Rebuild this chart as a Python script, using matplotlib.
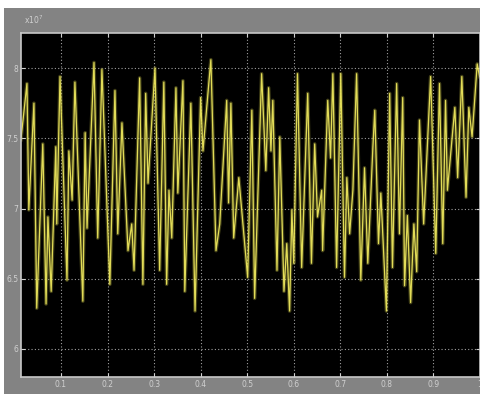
import matplotlib
matplotlib.use("Agg")
import matplotlib.pyplot as plt
from matplotlib.patches import Rectangle

# Отсчёты сигнала: время, с и значение (в единицах 1e7)
t = [0.014, 0.027, 0.031, 0.042, 0.048, 0.061, 0.068, 0.072, 0.079, 0.089,
     0.091, 0.098, 0.113, 0.117, 0.124, 0.130, 0.147, 0.152, 0.156, 0.171,
     0.179, 0.188, 0.205, 0.216, 0.222, 0.231, 0.244, 0.252, 0.257, 0.269,
     0.276, 0.282, 0.287, 0.302, 0.312, 0.321, 0.327, 0.332, 0.338, 0.347,
     0.351, 0.362, 0.366, 0.379, 0.388, 0.400, 0.405, 0.422, 0.433, 0.441,
     0.456, 0.460, 0.465, 0.471, 0.482, 0.501, 0.510, 0.516, 0.531, 0.540,
     0.546, 0.551, 0.555, 0.564, 0.570, 0.579, 0.585, 0.591, 0.596, 0.600,
     0.608, 0.617, 0.630, 0.638, 0.645, 0.651, 0.660, 0.662, 0.673, 0.679,
     0.684, 0.692, 0.701, 0.709, 0.714, 0.720, 0.727, 0.735, 0.744, 0.752,
     0.759, 0.770, 0.774, 0.782, 0.787, 0.799, 0.806, 0.812, 0.821, 0.827,
     0.834, 0.838, 0.844, 0.851, 0.858, 0.864, 0.870, 0.879, 0.894, 0.905,
     0.913, 0.920, 0.926, 0.930, 0.946, 0.952, 0.961, 0.970, 0.976, 0.983,
     0.994, 0.999]
v = [7.49, 7.89, 6.99, 7.75, 6.29, 7.46, 6.32, 6.94, 6.41, 7.44,
     6.89, 7.94, 6.49, 7.41, 7.06, 7.90, 6.34, 7.54, 6.86, 8.04,
     6.79, 7.99, 6.46, 7.84, 6.82, 7.61, 6.70, 6.89, 6.56, 7.93,
     6.46, 7.82, 7.18, 8.00, 6.56, 7.90, 6.46, 7.13, 6.79, 7.86,
     7.11, 7.91, 6.41, 7.75, 6.27, 7.79, 7.41, 8.06, 6.70, 6.89,
     7.77, 7.04, 7.75, 6.79, 7.22, 6.51, 7.70, 6.36, 7.96, 7.27,
     7.86, 7.41, 7.77, 6.56, 7.51, 6.41, 6.75, 6.27, 6.99, 6.61,
     7.96, 6.58, 7.82, 6.61, 7.46, 6.94, 7.13, 6.70, 7.77, 7.36,
     7.96, 6.58, 7.96, 6.51, 7.22, 6.82, 7.13, 7.96, 6.49, 7.29,
     6.61, 7.44, 7.70, 6.75, 7.11, 6.27, 7.82, 6.58, 7.89, 6.82,
     7.79, 6.45, 6.95, 6.33, 6.89, 6.55, 7.63, 6.89, 7.94, 6.68,
     7.89, 6.75, 7.77, 7.13, 7.72, 7.22, 7.94, 7.08, 7.72, 7.51,
     8.03, 7.94]

xticks = [0.1, 0.2, 0.3, 0.4, 0.5, 0.6, 0.7, 0.8, 0.9, 1.0]
xlabels = ["0.1", "0.2", "0.3", "0.4", "0.5", "0.6", "0.7", "0.8", "0.9", "1"]
yticks = [6, 6.5, 7, 7.5, 8]
ylabels = ["6", "6.5", "7", "7.5", "8"]

fig = plt.figure(figsize=(4.8, 3.94), dpi=100)
fig.patch.set_facecolor("white")
# серая подложка окна осциллографа (под осями)
fig.patches.append(Rectangle((4 / 480, 0), 1, 1 - 8 / 394, transform=fig.transFigure,
                             facecolor="#838383", edgecolor="none", zorder=-10))

ax = fig.add_axes([21 / 480, 1 - 377 / 394, 459 / 480, 344 / 394])
ax.set_facecolor("black")
# мягкое свечение под линией, как на экране осциллографа
ax.plot(t, v, color="#b8b440", lw=2.6, alpha=0.35)
ax.plot(t, v, color="#ece65c", lw=0.9, alpha=0.95)

ax.set_xlim(0.0142, 0.9991)
ax.set_ylim(5.8, 8.25)
ax.set_xticks(xticks)
ax.set_xticklabels(xlabels)
ax.set_yticks(yticks)
ax.set_yticklabels(ylabels)
ax.grid(True, color="#a0a0a0", linestyle=(0, (1, 2)), lw=0.8)
ax.tick_params(colors="#d0d0d0", labelsize=5.5, length=3, direction="in",
               right=True, top=True, pad=2)
for s in ax.spines.values():
    s.set_color("#c8c8c8")
    s.set_linewidth(1.2)

fig.text(24 / 480, 1 - 24 / 394, r"x10$^7$", color="#d0d0d0", fontsize=5.5)

fig.savefig("out.png", dpi=100)
